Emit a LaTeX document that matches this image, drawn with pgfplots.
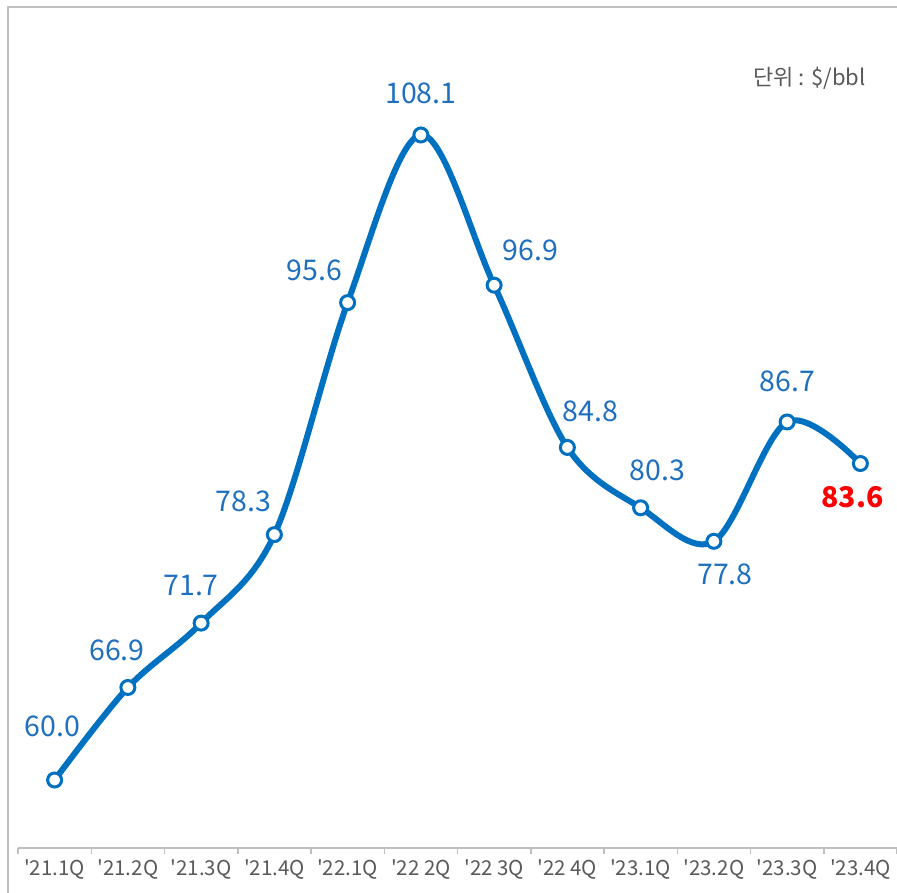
\documentclass[border=0pt]{standalone}
\usepackage{fontspec}
\setmainfont{Noto Sans CJK KR}
\usepackage{pgfplots}
\pgfplotsset{compat=1.18}
\usepackage{pgfplotstable}
\definecolor{lblue}{HTML}{0070C0}
\definecolor{tblue}{HTML}{1F6FBF}
\definecolor{framegray}{HTML}{BFBFBF}
\definecolor{txtgray}{HTML}{595959}

\pgfplotstableread{
x y dx dy c
0 60.0 -2 54 0
1 66.9 -11 37 0
2 71.7 -10 38 0
3 78.3 -31 33 0
4 95.6 -33 32 0
5 108.1 0 42 0
6 96.9 36 35 0
7 84.8 23 36 0
8 80.3 17 37 0
9 77.8 11 -33 0
10 86.7 0 41 0
11 83.6 -8 -34 1
}\datatable

\begin{document}
\begin{tikzpicture}
\begin{axis}[
  name=ax,
  scale only axis,
  width=879pt, height=841pt,
  xmin=-0.5, xmax=11.5,
  ymin=54.93, ymax=117.645,
  axis x line=bottom,
  axis y line=none,
  x axis line style={-, draw=framegray, line width=2pt},
  xtick={-0.5,0.5,...,11.5},
  x tick label as interval,
  xticklabels={\textquotesingle21.1Q,\textquotesingle21.2Q,\textquotesingle21.3Q,\textquotesingle21.4Q,\textquotesingle22.1Q,\textquotesingle22 2Q,\textquotesingle22 3Q,\textquotesingle22 4Q,\textquotesingle23.1Q,\textquotesingle23.2Q,\textquotesingle23.3Q,\textquotesingle23.4Q},
  xticklabel style={font=\fontsize{20.5}{21}\selectfont, text=txtgray, yshift=-2pt},
  tick align=outside,
  major tick length=6pt,
  xtick style={draw=framegray, line width=1.5pt},
  ytick=\empty,
  clip=false,
]
\addplot[
  lblue, line width=6pt, smooth, tension=0.55,
  mark=*, mark size=7pt,
  mark options={fill=white, draw=lblue, line width=3pt},
  point meta=y,
  visualization depends on={\thisrow{dx}\as\labdx},
  visualization depends on={\thisrow{dy}\as\labdy},
  visualization depends on={\thisrow{c}\as\labred},
  nodes near coords={\ifdim\labred pt>0.5pt \color{red}\bfseries\fi\pgfmathprintnumber[fixed,fixed zerofill,precision=1,assume math mode=true]{\pgfplotspointmeta}},
  every node near coord/.append style={anchor=center, text=tblue, font=\fontsize{28.5}{28.5}\selectfont, xshift=\labdx pt, yshift=\labdy pt, inner sep=0pt},
] table[x=x, y=y] {\datatable};
\end{axis}
\draw[framegray, line width=2pt] ([shift={(-10pt,-46pt)}]ax.south west) -- ([xshift=-10pt]ax.north west) -- (ax.north east);
\node[anchor=east, text=txtgray, font=\fontsize{22}{22}\selectfont, inner sep=0pt] at ([shift={(-31pt,-71pt)}]ax.north east) {단위 : \$/bbl};
\pgfresetboundingbox
\useasboundingbox ([shift={(-18pt,-45pt)}]ax.south west) rectangle ([yshift=7pt]ax.north east);
\end{tikzpicture}
\end{document}
